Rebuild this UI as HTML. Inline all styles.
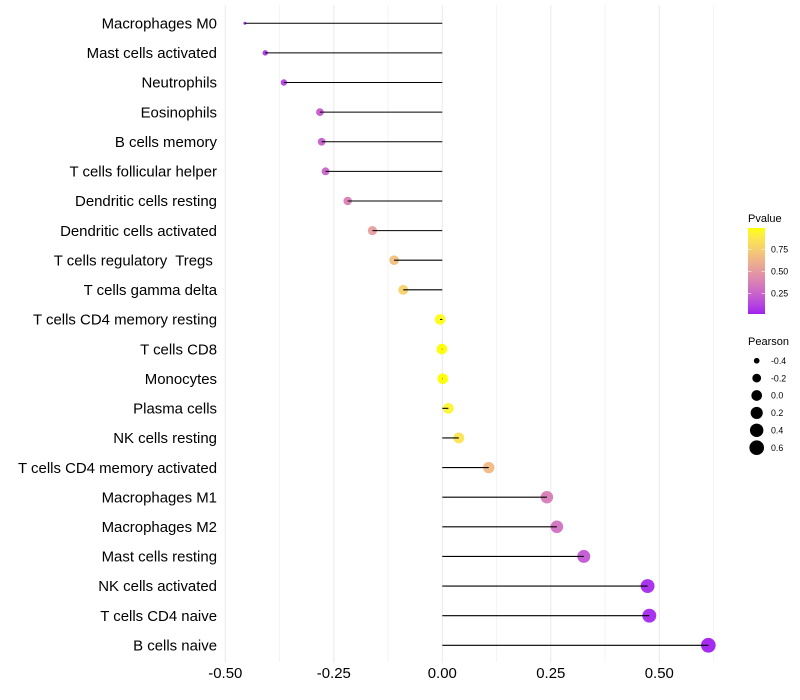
<!DOCTYPE html>
<html>
<head>
<meta charset="utf-8">
<title>Pearson lollipop chart</title>
<style>
html,body{margin:0;padding:0;background:#fff;}
svg{display:block;font-family:"Liberation Sans",sans-serif;}
</style>
</head>
<body>
<svg id="chart" width="800" height="700" viewBox="0 0 800 700" xmlns="http://www.w3.org/2000/svg"></svg>
<script>
const categories = ["Macrophages M0","Mast cells activated","Neutrophils","Eosinophils","B cells memory","T cells follicular helper","Dendritic cells resting","Dendritic cells activated","T cells regulatory  Tregs ","T cells gamma delta","T cells CD4 memory resting","T cells CD8","Monocytes","Plasma cells","NK cells resting","T cells CD4 memory activated","Macrophages M1","Macrophages M2","Mast cells resting","NK cells activated","T cells CD4 naive","B cells naive"];
const pearsonValues = [-0.455,-0.408,-0.365,-0.282,-0.278,-0.269,-0.218,-0.161,-0.111,-0.09,-0.005,-0.001,0.001,0.014,0.038,0.107,0.241,0.264,0.326,0.473,0.477,0.613];
const pValues = [0.05,0.08,0.11,0.22,0.23,0.25,0.38,0.52,0.68,0.77,0.98,0.99,0.99,0.94,0.86,0.65,0.36,0.31,0.2,0.04,0.035,0.016];
const xTickValues = [-0.5,-0.25,0,0.25,0.5];
const xTickLabels = ["-0.50","-0.25","0.00","0.25","0.50"];
const xMinorValues = [-0.375,-0.125,0.125,0.375,0.625];
const pvalueLegendTicks = [0.25,0.5,0.75];
const pvalueLegendLabels = ["0.25","0.50","0.75"];
const pearsonLegendValues = [-0.4,-0.2,0,0.2,0.4,0.6];
const pearsonLegendLabels = ["-0.4","-0.2","0.0","0.2","0.4","0.6"];

const NS = "http://www.w3.org/2000/svg";
const svg = document.getElementById("chart");

function xScale(v){ return 442.3 + v * 434; }
function yScale(i){ return 23.26 + i * 29.62; }
function legendPY(p){ return 315.5 - p * 88; }
const sizeMin = Math.min.apply(null, pearsonValues);
const sizeMax = Math.max.apply(null, pearsonValues);
function diameter(v){
  const t = Math.max(0, Math.min(1, (v - sizeMin) / (sizeMax - sizeMin)));
  return 3 + 11.7 * Math.sqrt(t);
}
function toLab(c){
  const f = c.map(function(u){ u /= 255; return u > 0.04045 ? Math.pow((u + 0.055) / 1.055, 2.4) : u / 12.92; });
  const X = (0.4124 * f[0] + 0.3576 * f[1] + 0.1805 * f[2]) / 0.95047;
  const Y = 0.2126 * f[0] + 0.7152 * f[1] + 0.0722 * f[2];
  const Z = (0.0193 * f[0] + 0.1192 * f[1] + 0.9505 * f[2]) / 1.08883;
  const g = function(t){ return t > 0.008856 ? Math.cbrt(t) : 7.787 * t + 16 / 116; };
  return [116 * g(Y) - 16, 500 * (g(X) - g(Y)), 200 * (g(Y) - g(Z))];
}
function fromLab(l){
  const fy = (l[0] + 16) / 116, fx = fy + l[1] / 500, fz = fy - l[2] / 200;
  const h = function(t){ return t * t * t > 0.008856 ? t * t * t : (t - 16 / 116) / 7.787; };
  const X = h(fx) * 0.95047, Y = h(fy), Z = h(fz) * 1.08883;
  const r = 3.2406 * X - 1.5372 * Y - 0.4986 * Z;
  const g = -0.9689 * X + 1.8758 * Y + 0.0415 * Z;
  const b = 0.0557 * X - 0.204 * Y + 1.057 * Z;
  return [r, g, b].map(function(u){
    u = u > 0.0031308 ? 1.055 * Math.pow(u, 1 / 2.4) - 0.055 : 12.92 * u;
    return Math.round(Math.max(0, Math.min(1, u)) * 255);
  });
}
const labLow = toLab([160, 32, 240]);
const labHigh = toLab([255, 255, 0]);
const pMin = Math.min.apply(null, pValues);
const pMax = Math.max.apply(null, pValues);
function colorFor(p){
  const t = Math.max(0, Math.min(1, (p - pMin) / (pMax - pMin)));
  const c = fromLab([0, 1, 2].map(function(i){ return labLow[i] + (labHigh[i] - labLow[i]) * t; }));
  return "rgb(" + c.join(",") + ")";
}
function make(tag, attrs, text){
  const el = document.createElementNS(NS, tag);
  Object.keys(attrs).forEach(function(k){ el.setAttribute(k, attrs[k]); });
  if (text !== undefined) { el.textContent = text; }
  svg.appendChild(el);
  return el;
}

xMinorValues.forEach(function(v){
  const el = make("line", {x1: xScale(v), x2: xScale(v), y1: 5, y2: 662, stroke: "#ebebeb", "stroke-width": 0.55});
  
  
});
xTickValues.forEach(function(v, i){
  const el = make("line", {x1: xScale(v), x2: xScale(v), y1: 5, y2: 663, stroke: "#ebebeb", "stroke-width": 1.07});
  
  
  const lab = make("text", {x: xScale(v), y: 678, "text-anchor": "middle", "font-size": 14.95, fill: "#000"}, xTickLabels[i]);
  
  
});

categories.forEach(function(name, i){
  const y = yScale(i);
  const lab = make("text", {x: 217, y: y + 5.2, "text-anchor": "end", "font-size": 14.95, fill: "#000", style: "white-space:pre"}, name);
  
  
  const dot = make("circle", {cx: xScale(pearsonValues[i]), cy: y, r: diameter(pearsonValues[i]) / 2, fill: colorFor(pValues[i]), "fill-opacity": 0.95});
  
  
  const seg = make("line", {x1: xScale(0), x2: xScale(pearsonValues[i]), y1: y, y2: y, stroke: "#000", "stroke-width": 1.07});
  
  
});

const defs = document.createElementNS(NS, "defs");
const grad = document.createElementNS(NS, "linearGradient");
grad.setAttribute("id", "pvalue-gradient");
grad.setAttribute("x1", "0"); grad.setAttribute("y1", "1");
grad.setAttribute("x2", "0"); grad.setAttribute("y2", "0");
for (let s = 0; s <= 20; s++) {
  const stop = document.createElementNS(NS, "stop");
  stop.setAttribute("offset", (s / 20));
  stop.setAttribute("stop-color", colorFor(pMin + (pMax - pMin) * s / 20));
  grad.appendChild(stop);
}
defs.appendChild(grad);
svg.appendChild(defs);

const pTitle = make("text", {x: 748, y: 222, "font-size": 11, fill: "#000"}, "Pvalue");


const bar = make("rect", {x: 748, y: 228, width: 17, height: 86, fill: "url(#pvalue-gradient)"});


pvalueLegendTicks.forEach(function(p, i){
  const y = legendPY(p);
  const t1 = make("line", {x1: 748, x2: 751.4, y1: y, y2: y, stroke: "#fff", "stroke-width": 0.55});
  
  
  const t2 = make("line", {x1: 761.6, x2: 765, y1: y, y2: y, stroke: "#fff", "stroke-width": 0.55});
  
  
  const lab = make("text", {x: 771, y: y + 3.2, "font-size": 8.8, fill: "#000"}, pvalueLegendLabels[i]);
  
  
});

const sTitle = make("text", {x: 748, y: 345, "font-size": 11, fill: "#000"}, "Pearson");


pearsonLegendValues.forEach(function(v, i){
  const y = 360.7 + i * 17.4;
  const c = make("circle", {cx: 756.7, cy: y, r: diameter(v) / 2, fill: "#000"});
  
  
  const lab = make("text", {x: 771, y: y + 3.2, "font-size": 8.8, fill: "#000"}, pearsonLegendLabels[i]);
  
  
});
</script>
</body>
</html>
